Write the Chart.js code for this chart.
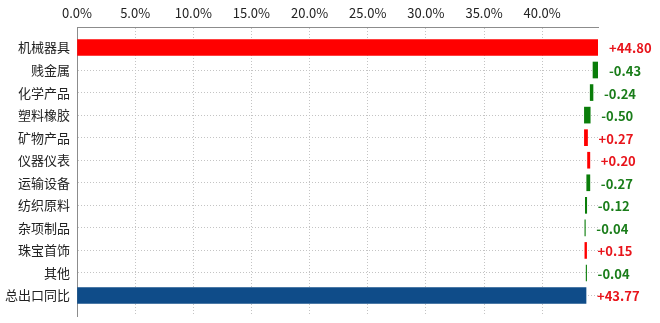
<!DOCTYPE html>
<html>
<head>
<meta charset="utf-8">
<script src="https://cdn.jsdelivr.net/npm/chart.js@4.4.1/dist/chart.umd.min.js"></script>
<style>
  html, body { margin: 0; padding: 0; background: #ffffff; }
  #wrap { width: 660px; height: 323px; position: relative; }
</style>
</head>
<body>
<div id="wrap"><canvas id="c" width="660" height="323"></canvas></div>
<script>
// ---- data ----
const categories = ['机械器具', '贱金属', '化学产品', '塑料橡胶', '矿物产品', '仪器仪表', '运输设备', '纺织原料', '杂项制品', '珠宝首饰', '其他', '总出口同比'];
const contributions = [44.80, -0.43, -0.24, -0.50, 0.27, 0.20, -0.27, -0.12, -0.04, 0.15, -0.04];
const totalValue = 43.77;
const xTickValues = [0, 5, 10, 15, 20, 25, 30, 35, 40];

// ---- build waterfall ranges from the values ----
const ranges = [];
const shownValues = [];
let cum = 0;
contributions.forEach(v => {
  ranges.push([cum, cum + v]);
  shownValues.push(v);
  cum += v;
});
ranges.push([0, totalValue]);
shownValues.push(totalValue);

const RED = '#ff0000', GREEN = '#0a7d0a', BLUE = '#0f4c89';
const barColors = shownValues.map((v, i) => i === shownValues.length - 1 ? BLUE : (v >= 0 ? RED : GREEN));
const labelColors = shownValues.map(v => v >= 0 ? '#e8141b' : '#1a7d1a');

const FONT = "'Noto Sans CJK SC', 'Noto Sans', sans-serif";

const valueLabels = {
  id: 'valueLabels',
  afterDatasetsDraw(chart) {
    const ctx = chart.ctx;
    const meta = chart.getDatasetMeta(0);
    ctx.save();
    ctx.font = 'bold 13px ' + FONT;
    ctx.textBaseline = 'middle';
    ctx.textAlign = 'left';
    meta.data.forEach((el, i) => {
      const right = Math.max(el.x, el.base);
      const v = shownValues[i];
      const txt = (v >= 0 ? '+' : '') + v.toFixed(2);
      ctx.fillStyle = labelColors[i];
      ctx.fillText(txt, right + 11, el.y + 1);
    });
    ctx.restore();
  }
};

new Chart(document.getElementById('c'), {
  type: 'bar',
  data: {
    datasets: [{
      data: categories.map((c, i) => ({ y: i, x: ranges[i] })),
      backgroundColor: barColors,
      borderWidth: 0,
      barThickness: 16
    }]
  },
  options: {
    indexAxis: 'y',
    responsive: false,
    animation: false,
    devicePixelRatio: 1,
    layout: { padding: { left: 0, right: 62, top: 0, bottom: 7 } },
    plugins: { legend: { display: false }, tooltip: { enabled: false } },
    scales: {
      x: {
        type: 'linear',
        position: 'top',
        min: 0,
        max: 44.8,
        offset: false,
        afterBuildTicks: s => { s.ticks = xTickValues.map(v => ({ value: v })); },
        afterFit: s => { s.height = 27; s.paddingLeft = 0; s.paddingRight = 0; s.paddingTop = 0; s.paddingBottom = 0; },
        ticks: {
          callback: v => Number(v).toFixed(1) + '%',
          font: { family: FONT, size: 13 },
          color: '#222',
          padding: 6,
          maxRotation: 0
        },
        grid: {
          drawTicks: false,
          offset: false,
          color: ctx => (ctx.tick && ctx.tick.value === 0) ? 'rgba(0,0,0,0)' : '#c4c4c4',
          lineWidth: 1
        },
        border: { display: true, color: '#8c8c8c', width: 1, dash: [1, 2] }
      },
      y: {
        type: 'linear',
        reverse: true,
        min: -0.907,
        max: 11.907,
        offset: false,
        afterBuildTicks: s => { s.ticks = categories.map((c, i) => ({ value: i })); },
        afterFit: s => { s.width = 77; s.paddingLeft = 0; s.paddingRight = 0; s.paddingTop = 0; s.paddingBottom = 0; },
        ticks: {
          autoSkip: false,
          callback: v => categories[v] || '',
          font: { family: FONT, size: 13 },
          color: '#222',
          padding: 7
        },
        grid: {
          drawTicks: false,
          offset: false,
          color: '#c4c4c4',
          lineWidth: 1
        },
        border: { display: true, color: '#8c8c8c', width: 1, dash: [1, 2] }
      }
    }
  },
  plugins: [valueLabels]
});
</script>
</body>
</html>
